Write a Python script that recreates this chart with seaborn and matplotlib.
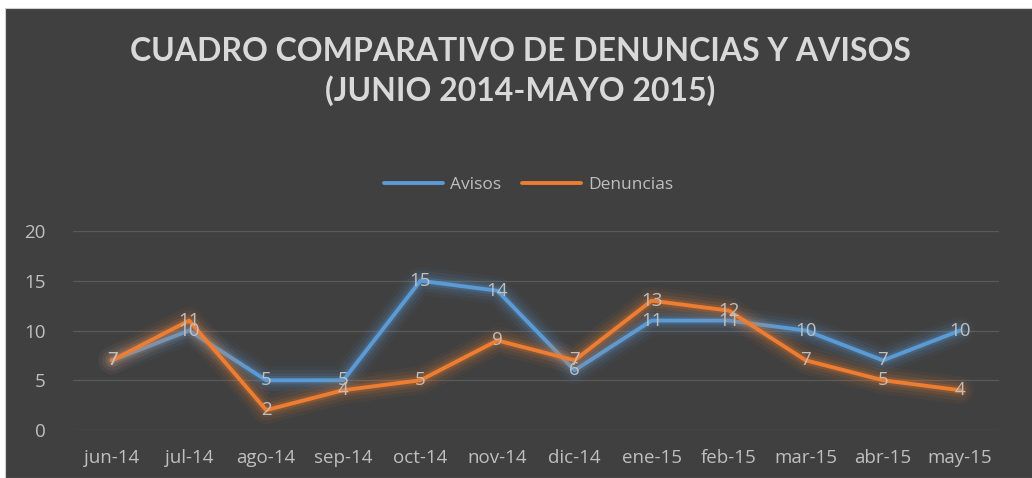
import numpy as np
import pandas as pd
import matplotlib
matplotlib.use("Agg")
import matplotlib.pyplot as plt
import matplotlib.patheffects as pe
import seaborn as sns

# data
months = ["jun-14", "jul-14", "ago-14", "sep-14", "oct-14", "nov-14",
          "dic-14", "ene-15", "feb-15", "mar-15", "abr-15", "may-15"]
avisos = [7, 10, 5, 5, 15, 14, 6, 11, 11, 10, 7, 10]
denuncias = [7, 11, 2, 4, 5, 9, 7, 13, 12, 7, 5, 4]

series_names = ["Avisos", "Denuncias"]
colors = {"Avisos": "#5B9BD5", "Denuncias": "#ED7D31"}
bg = "#404040"
text_col = "#BFBFBF"
label_font = ["Open Sans", "DejaVu Sans"]

df = pd.DataFrame({
    "mes": months * 2,
    "valor": avisos + denuncias,
    "serie": ["Avisos"] * len(months) + ["Denuncias"] * len(months),
})
df["x"] = np.tile(np.arange(len(months)), 2)

sns.set_style("dark")
plt.rcParams["font.family"] = ["Lato", "DejaVu Sans"]

fig = plt.figure(figsize=(10.32, 4.78), dpi=100, facecolor="white")
# dark chart area with thin white margin on top/left
bgrect = plt.Rectangle((5 / 1032, 0), 1, 1 - 8 / 478, transform=fig.transFigure,
                       facecolor=bg, edgecolor="#D0D0D0", lw=0.8, zorder=-10)
fig.patches.append(bgrect)

ax = fig.add_axes([0.0712, 0.1004, 0.8964, 0.4163])
ax.set_facecolor(bg)
ax.set_zorder(1)

sns.lineplot(data=df, x="x", y="valor", hue="serie", hue_order=series_names,
             palette=colors, lw=2.8, ax=ax, legend=False, sort=False)

# soft glow around each line
for line, name in zip(ax.lines, series_names):
    c = colors[name]
    line.set_path_effects([
        pe.Stroke(linewidth=20, foreground=c, alpha=0.05),
        pe.Stroke(linewidth=15, foreground=c, alpha=0.08),
        pe.Stroke(linewidth=10, foreground=c, alpha=0.12),
        pe.Stroke(linewidth=6, foreground=c, alpha=0.2),
        pe.Normal(),
    ])

# data labels centered on the points
for vals in (avisos, denuncias):
    for i, v in enumerate(vals):
        ax.text(i, v, str(v), ha="center", va="center", fontsize=13.5,
                color=text_col, family=label_font, zorder=5)

ax.set_xlim(-0.5, len(months) - 0.5)
ax.set_ylim(0, 20)
ax.set_yticks([0, 5, 10, 15, 20])
ax.set_xticks(range(len(months)))
ax.set_xticklabels(months)
ax.grid(axis="y", color="#595959", lw=0.9)
ax.grid(axis="x", visible=False)
ax.tick_params(axis="both", colors=text_col, labelsize=13.5, length=0)
ax.tick_params(axis="x", pad=14)
ax.tick_params(axis="y", pad=20)
for lab in ax.get_xticklabels() + ax.get_yticklabels():
    lab.set_family(label_font)
ax.set_xlabel("")
ax.set_ylabel("")
for s in ax.spines.values():
    s.set_visible(False)

fig.text(0.504, 0.893, "CUADRO COMPARATIVO DE DENUNCIAS Y AVISOS",
         ha="center", va="center", fontsize=23, fontweight="bold", color="#D9D9D9")
fig.text(0.504, 0.810, "(JUNIO 2014-MAYO 2015)",
         ha="center", va="center", fontsize=23, fontweight="bold", color="#D9D9D9")

handles = [plt.Line2D([], [], color=colors[n], lw=2.8) for n in series_names]
fig.legend(handles, series_names, loc="center", bbox_to_anchor=(0.512, 0.613),
           ncol=2, frameon=False, fontsize=12.5, labelcolor=text_col,
           prop={"family": label_font, "size": 12.5},
           handlelength=3.4, columnspacing=1.2, handletextpad=0.4)

fig.savefig("out.png", dpi=100, facecolor=fig.get_facecolor())
